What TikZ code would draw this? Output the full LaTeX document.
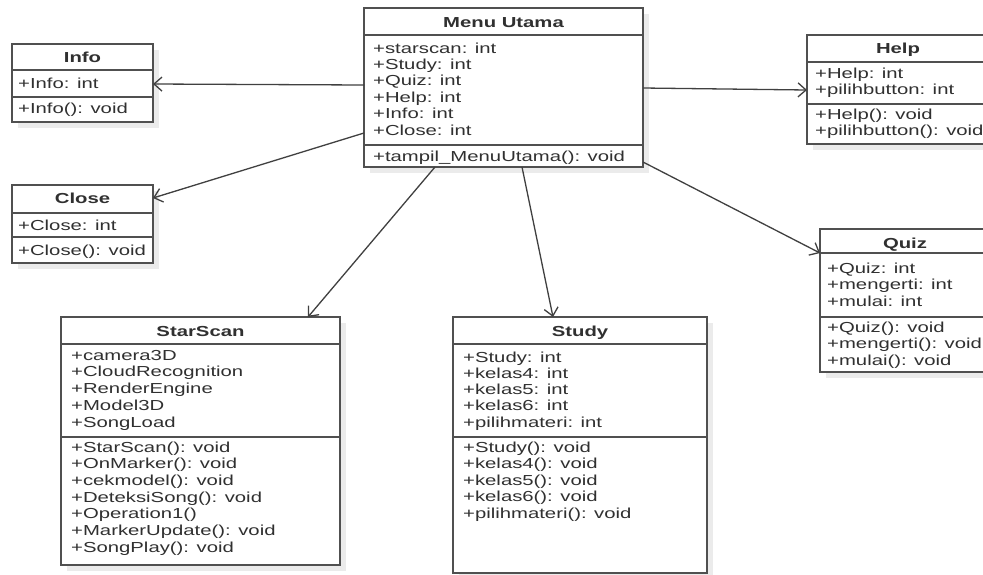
\documentclass[tikz,border=0pt]{standalone}
\usepackage{fontspec}
\setmainfont{Liberation Sans}[FakeStretch=1.4]
\usetikzlibrary{arrows.meta}
\definecolor{boxc}{HTML}{505050}
\definecolor{textc}{HTML}{303030}
\definecolor{linec}{HTML}{404040}
\definecolor{shadowc}{HTML}{EBEBEB}

% class frame: name, left, top, right, title separator, member separator, bottom
\newcommand\umlframe[7]{%
  \fill[shadowc] ({#2+6},{#3+6}) rectangle ({#4+6},{#7+6});
  \node[umlbox, minimum width={(#4-#2)*1pt}, minimum height={(#7-#3)*1pt}]
    (#1) at ({(#2+#4)/2},{(#3+#7)/2}) {};
  \draw[sepline] (#1.west |- 0,#5) -- (#1.east |- 0,#5);
  \draw[sepline] (#1.west |- 0,#6) -- (#1.east |- 0,#6);
}
% member lines: name prefix, x, first baseline, line pitch, list
\newcommand\umlmembers[5]{%
  \foreach \t [count=\i from 0] in {#5}
    \node[member] (#1\i) at (#2,{#3+\i*#4}) {\t};
}

\begin{document}
\begin{tikzpicture}[x=1pt,y=-1pt,
  umlbox/.style={draw=boxc, line width=1.4pt, fill=white, inner sep=0pt, outer sep=0pt},
  sepline/.style={draw=boxc, line width=1.2pt},
  member/.style={anchor=base west, inner sep=0pt, text=textc,
    font=\fontsize{14.5}{16.6}\selectfont},
  classtitle/.style={anchor=base, inner sep=0pt, text=textc,
    font=\bfseries\fontsize{14.5}{16.6}\selectfont},
  assoc/.style={draw=linec, line width=1.3pt,
    -{Straight Barb[length=8pt,width=14pt,line width=1.3pt]}}
]
\useasboundingbox (0,0) rectangle (983,574);
\fill[white] (0,0) rectangle (983,574);
\clip (0,0) rectangle (983,574);

% Menu Utama
\umlframe{menu}{364}{8}{643}{35}{145}{167}
\node[classtitle] (menu-t) at (503.5,27) {Menu Utama};
\umlmembers{menu-a}{373}{53}{16.4}{+starscan: int,+Study: int,+Quiz: int,+Help: int,+Info: int,+Close: int}
\umlmembers{menu-m}{373}{161}{16.4}{+tampil\_MenuUtama(): void}

% Info
\umlframe{info}{12}{44}{153}{70}{97}{122}
\node[classtitle] (info-t) at (82.5,62) {Info};
\umlmembers{info-a}{18}{88}{16.4}{+Info: int}
\umlmembers{info-m}{18}{113}{16.4}{+Info(): void}

% Close
\umlframe{close}{12}{185}{153}{213}{237}{263}
\node[classtitle] (close-t) at (82.5,203) {Close};
\umlmembers{close-a}{18}{230}{16.4}{+Close: int}
\umlmembers{close-m}{18}{255}{16.4}{+Close(): void}

% Help
\umlframe{help}{807}{35}{989}{62}{104}{144}
\node[classtitle] (help-t) at (898,53) {Help};
\umlmembers{help-a}{815}{78}{16.8}{+Help: int,+pilihbutton: int}
\umlmembers{help-m}{815}{119}{16.8}{+Help(): void,+pilihbutton(): void}

% Quiz
\umlframe{quiz}{820}{229}{990}{253}{317}{372}
\node[classtitle] (quiz-t) at (905,248) {Quiz};
\umlmembers{quiz-a}{827}{273}{16.8}{+Quiz: int,+mengerti: int,+mulai: int}
\umlmembers{quiz-m}{827}{332}{16.8}{+Quiz(): void,+mengerti(): void,+mulai(): void}

% StarScan
\umlframe{starscan}{61}{317}{340}{344}{437}{565}
\node[classtitle] (starscan-t) at (200.5,336) {StarScan};
\umlmembers{starscan-a}{71}{360}{16.75}{+camera3D,+CloudRecognition,+RenderEngine,+Model3D,+SongLoad}
\umlmembers{starscan-m}{71}{452}{16.7}{+StarScan(): void,+OnMarker(): void,+cekmodel(): void,+DeteksiSong(): void,+Operation1(),+MarkerUpdate(): void,+SongPlay(): void}

% Study
\umlframe{study}{453}{317}{707}{344}{437}{573}
\node[classtitle] (study-t) at (580,336) {Study};
\umlmembers{study-a}{463}{362}{16.3}{+Study: int,+kelas4: int,+kelas5: int,+kelas6: int,+pilihmateri: int}
\umlmembers{study-m}{463}{452}{16.5}{+Study(): void,+kelas4(): void,+kelas5(): void,+kelas6(): void,+pilihmateri(): void}

% associations from the main menu
\draw[assoc] (menu.west |- 0,85) -- (info.east |- 0,84);
\draw[assoc] (menu.west |- 0,133) -- (close.east |- 0,198);
\draw[assoc] (menu.east |- 0,88) -- (help.west |- 0,90);
\draw[assoc] (menu.east |- 0,162) -- (quiz.west |- 0,253);
\draw[assoc] (menu.south -| 435,0) -- (starscan.north -| 308,0);
\draw[assoc] (menu.south -| 522,0) -- (study.north -| 553,0);
\end{tikzpicture}
\end{document}
